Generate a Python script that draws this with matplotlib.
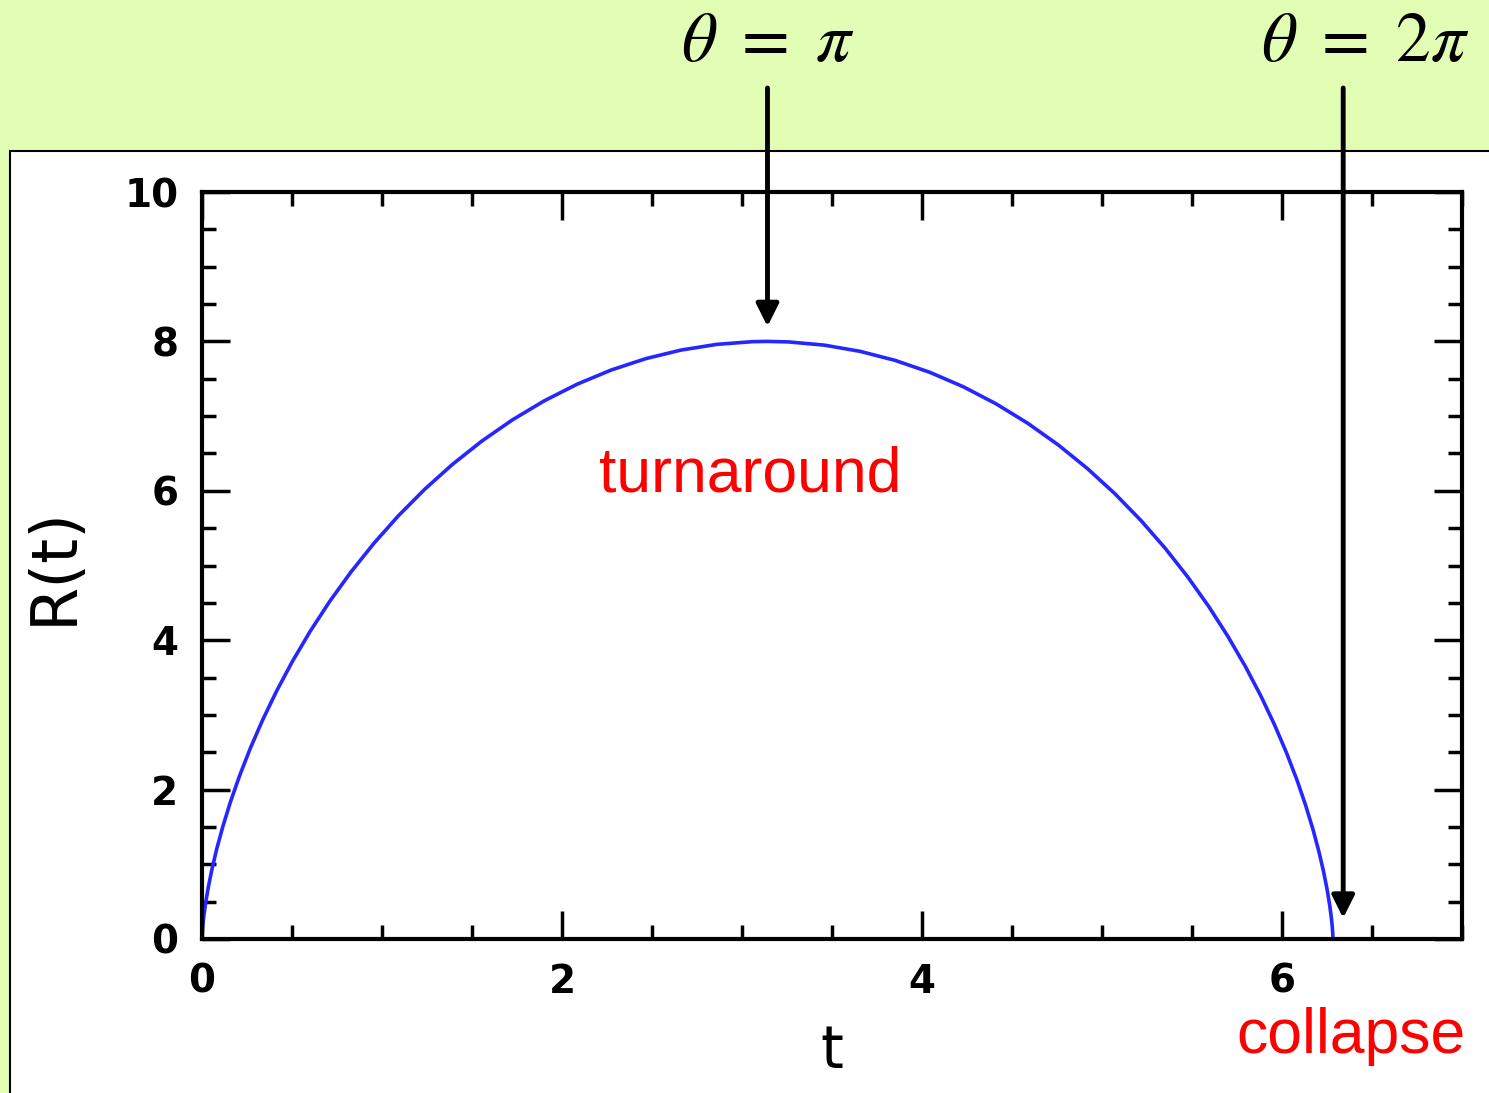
import numpy as np
import matplotlib
matplotlib.use("Agg")
import matplotlib.pyplot as plt
from matplotlib.patches import Rectangle
from matplotlib.ticker import MultipleLocator

plt.rcParams['mathtext.fontset'] = 'stix'

# radius of the shell vs time, from bang through turnaround to collapse
t = [0.0, 0.0002, 0.0013, 0.0045, 0.0106, 0.0206, 0.0354, 0.0558, 0.0826, 0.1167,
     0.1585, 0.2088, 0.268, 0.3364, 0.4146, 0.5025, 0.6004, 0.7083, 0.8262, 0.9537,
     1.0907, 1.2368, 1.3915, 1.5543, 1.7245, 1.9015, 2.0845, 2.2726, 2.465, 2.6608,
     2.8589, 3.0584, 3.1416, 3.2584, 3.4578, 3.6555, 3.8508, 4.0425, 4.2298, 4.4119,
     4.5878, 4.7568, 4.9183, 5.0716, 5.2162, 5.3516, 5.4775, 5.5937, 5.6999, 5.7962,
     5.8825, 5.9589, 6.0258, 6.0835, 6.1323, 6.1728, 6.2055, 6.2313, 6.2507, 6.2646,
     6.2739, 6.2794, 6.2822, 6.2832]
R = [0.0, 0.02, 0.0797, 0.1787, 0.3158, 0.4897, 0.6987, 0.9406, 1.2132, 1.5136,
     1.8388, 2.1856, 2.5506, 2.93, 3.3201, 3.7171, 4.1168, 4.5154, 4.9089, 5.2932,
     5.6646, 6.0194, 6.3539, 6.6651, 6.9495, 7.2046, 7.4274, 7.6163, 7.7688, 7.8838,
     7.96, 7.9965, 8.0, 7.9932, 7.9499, 7.8671, 7.7458, 7.5871, 7.3924, 7.164,
     6.9037, 6.6146, 6.2993, 5.9612, 5.6032, 5.2292, 4.8432, 4.4488, 4.0496, 3.6499,
     3.254, 2.8654, 2.4881, 2.1261, 1.7825, 1.4613, 1.1653, 0.8979, 0.6611, 0.458,
     0.2901, 0.1594, 0.0669, 0.0]

t_turn, R_turn = 3.1416, 8.0
t_coll, R_coll = 6.34, 0.28

W, H = 1489, 1093
fig = plt.figure(figsize=(W / 100, H / 100), dpi=100, facecolor='#E2FDB4')

# white panel under the plot
fig.patches.append(Rectangle((10 / W, -0.05), 1.1, 1 - 151 / H + 0.05,
                             transform=fig.transFigure, facecolor='white',
                             edgecolor='black', linewidth=1.5, zorder=-10))

ax = fig.add_axes([202 / W, 1 - 939 / H, 1260 / W, 747 / H])
ax.set_facecolor('white')
ax.plot(t, R, color='#2626ff', linewidth=2.6)

ax.set_xlim(0, 7)
ax.set_ylim(0, 10)
ax.xaxis.set_major_locator(MultipleLocator(2))
ax.xaxis.set_minor_locator(MultipleLocator(0.5))
ax.yaxis.set_major_locator(MultipleLocator(2))
ax.yaxis.set_minor_locator(MultipleLocator(0.5))
ax.tick_params(which='both', direction='in', top=True, right=True, width=2.5)
ax.tick_params(which='major', length=20, pad=17, labelsize=28)
ax.tick_params(which='minor', length=10)
for lab in ax.get_xticklabels() + ax.get_yticklabels():
    lab.set_family('DejaVu Sans')
    lab.set_fontweight('bold')
for s in ax.spines.values():
    s.set_linewidth(3)

ax.set_xlabel('t', family='DejaVu Sans', fontsize=42)
ax.set_ylabel('R(t)', family='DejaVu Sans', fontsize=46)
ax.xaxis.set_label_coords(0.5, -0.112)
ax.yaxis.set_label_coords(-0.093, 0.5)

arrow = dict(arrowstyle='-|>', color='black', lw=3.5, mutation_scale=34,
             shrinkA=0, shrinkB=0)
top_y = 1 - 88 / H
ax.annotate('', xy=(t_turn, R_turn + 0.2), xytext=(t_turn, top_y),
            textcoords=('data', 'figure fraction'), arrowprops=arrow,
            annotation_clip=False)
ax.annotate('', xy=(t_coll, R_coll), xytext=(t_coll, top_y),
            textcoords=('data', 'figure fraction'), arrowprops=arrow,
            annotation_clip=False)

fig.text(768 / W, 1 - 42 / H, r'$\theta\ =\ \pi$', ha='center', va='center', fontsize=50)
fig.text(1365 / W, 1 - 42 / H, r'$\theta\ =\ 2\pi$', ha='center', va='center', fontsize=50)

fig.text(750 / W, 1 - 475 / H, 'turnaround', color='red', family='Liberation Sans',
         fontsize=45, ha='center', va='center')
fig.text(1351 / W, 1 - 1037 / H, 'collapse', color='red', family='Liberation Sans',
         fontsize=45, ha='center', va='center')

fig.savefig('out.png', dpi=100, facecolor=fig.get_facecolor())
